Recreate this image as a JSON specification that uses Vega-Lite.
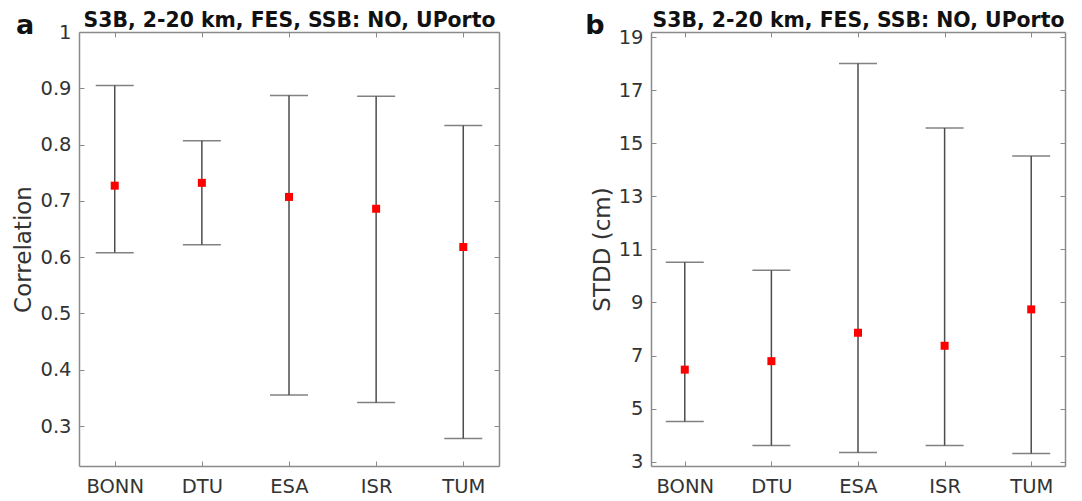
{
  "$schema": "https://vega.github.io/schema/vega-lite/v6.json",
  "padding": {"left": 12, "top": 10, "right": 5, "bottom": 2},
  "spacing": 85,
  "config": {
    "font": "DejaVu Sans",
    "view": {"stroke": null},
    "axis": {
      "domainColor": "#8a8a8a",
      "domainWidth": 1.5,
      "tickColor": "#8a8a8a",
      "tickWidth": 1,
      "tickSize": -5,
      "labelPadding": 13,
      "labelFontSize": 19.5,
      "labelColor": "#333333",
      "titleFontSize": 23,
      "titleFontWeight": "normal",
      "titleColor": "#333333",
      "grid": false
    }
  },
  "datasets": {
    "corr": [
      {"product": "BONN", "mean": 0.727, "lower": 0.608, "upper": 0.905},
      {"product": "DTU", "mean": 0.732, "lower": 0.622, "upper": 0.807},
      {"product": "ESA", "mean": 0.707, "lower": 0.355, "upper": 0.887},
      {"product": "ISR", "mean": 0.686, "lower": 0.342, "upper": 0.886},
      {"product": "TUM", "mean": 0.618, "lower": 0.278, "upper": 0.834}
    ],
    "stdd": [
      {"product": "BONN", "mean": 6.47, "lower": 4.52, "upper": 10.52},
      {"product": "DTU", "mean": 6.79, "lower": 3.61, "upper": 10.21},
      {"product": "ESA", "mean": 7.86, "lower": 3.35, "upper": 18.0},
      {"product": "ISR", "mean": 7.37, "lower": 3.61, "upper": 15.57},
      {"product": "TUM", "mean": 8.74, "lower": 3.31, "upper": 14.52}
    ]
  },
  "hconcat": [
    {
      "width": 420,
      "height": 434,
      "title": {"text": "a", "anchor": "start", "frame": "bounds", "fontSize": 27, "fontWeight": "bold", "color": "#111111", "dy": 33, "dx": 3},
      "data": {"name": "corr"},
      "resolve": {"axis": {"x": "independent", "y": "independent"}},
      "layer": [
        {
          "mark": {"type": "rule", "color": "#4d4d4d", "strokeWidth": 1.5},
          "encoding": {
            "x": {"field": "product", "type": "ordinal", "scale": {"type": "point", "padding": 0.41}, "axis": {"orient": "bottom", "title": null, "labelAngle": 0, "labelPadding": 16}},
            "y": {"field": "lower", "type": "quantitative", "scale": {"domain": [0.229, 1], "nice": false, "zero": false}, "axis": {"orient": "left", "title": "Correlation", "values": [0.3, 0.4, 0.5, 0.6, 0.7, 0.8, 0.9, 1], "format": ".1~f", "titlePadding": 4}},
            "y2": {"field": "upper"}
          }
        },
        {
          "mark": {"type": "tick", "orient": "horizontal", "size": 38, "thickness": 1.5, "color": "#4d4d4d"},
          "encoding": {
            "x": {"field": "product", "type": "ordinal", "axis": {"orient": "top", "labels": false, "title": "S3B, 2-20 km, FES, SSB: NO, UPorto", "titleFontWeight": "bold", "titleFontSize": 20.4, "titleColor": "#111111", "titlePadding": 1}},
            "y": {"field": "upper", "type": "quantitative", "axis": {"orient": "right", "labels": false, "title": null, "values": [0.3, 0.4, 0.5, 0.6, 0.7, 0.8, 0.9, 1]}}
          }
        },
        {
          "mark": {"type": "tick", "orient": "horizontal", "size": 38, "thickness": 1.5, "color": "#4d4d4d"},
          "encoding": {
            "x": {"field": "product", "type": "ordinal", "axis": null},
            "y": {"field": "lower", "type": "quantitative", "axis": null}
          }
        },
        {
          "mark": {"type": "square", "color": "#ff0000", "size": 64, "filled": true, "opacity": 1},
          "encoding": {
            "x": {"field": "product", "type": "ordinal", "axis": null},
            "y": {"field": "mean", "type": "quantitative", "axis": null}
          }
        }
      ]
    },
    {
      "width": 414,
      "height": 434,
      "title": {"text": "b", "anchor": "start", "frame": "bounds", "fontSize": 27, "fontWeight": "bold", "color": "#111111", "dy": 33, "dx": -6},
      "data": {"name": "stdd"},
      "resolve": {"axis": {"x": "independent", "y": "independent"}},
      "layer": [
        {
          "mark": {"type": "rule", "color": "#4d4d4d", "strokeWidth": 1.5},
          "encoding": {
            "x": {"field": "product", "type": "ordinal", "scale": {"type": "point", "padding": 0.39}, "axis": {"orient": "bottom", "title": null, "labelAngle": 0, "labelPadding": 16}},
            "y": {"field": "lower", "type": "quantitative", "scale": {"domain": [2.84, 19.19], "nice": false, "zero": false}, "axis": {"orient": "left", "title": "STDD (cm)", "values": [3, 5, 7, 9, 11, 13, 15, 17, 19], "titlePadding": 4}},
            "y2": {"field": "upper"}
          }
        },
        {
          "mark": {"type": "tick", "orient": "horizontal", "size": 38, "thickness": 1.5, "color": "#4d4d4d"},
          "encoding": {
            "x": {"field": "product", "type": "ordinal", "axis": {"orient": "top", "labels": false, "title": "S3B, 2-20 km, FES, SSB: NO, UPorto", "titleFontWeight": "bold", "titleFontSize": 20.4, "titleColor": "#111111", "titlePadding": 1}},
            "y": {"field": "upper", "type": "quantitative", "axis": {"orient": "right", "labels": false, "title": null, "values": [3, 5, 7, 9, 11, 13, 15, 17, 19]}}
          }
        },
        {
          "mark": {"type": "tick", "orient": "horizontal", "size": 38, "thickness": 1.5, "color": "#4d4d4d"},
          "encoding": {
            "x": {"field": "product", "type": "ordinal", "axis": null},
            "y": {"field": "lower", "type": "quantitative", "axis": null}
          }
        },
        {
          "mark": {"type": "square", "color": "#ff0000", "size": 64, "filled": true, "opacity": 1},
          "encoding": {
            "x": {"field": "product", "type": "ordinal", "axis": null},
            "y": {"field": "mean", "type": "quantitative", "axis": null}
          }
        }
      ]
    }
  ]
}
